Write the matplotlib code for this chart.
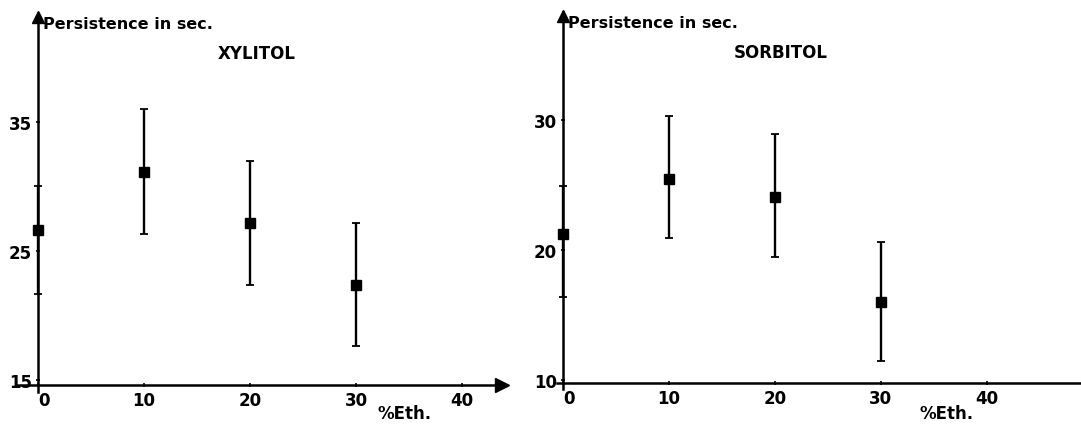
import matplotlib
matplotlib.use('Agg')
from matplotlib import pyplot as plt

# % ethanol and persistence (sec): means with lower / upper ends of the bars
eth = [0, 10, 20, 30]

xyl_mean = [26.6, 31.1, 27.2, 22.4]
xyl_low = [21.7, 26.3, 22.4, 17.6]
xyl_high = [30.0, 36.0, 32.0, 27.2]

sor_mean = [21.2, 25.5, 24.1, 16.0]
sor_low = [16.4, 20.9, 19.5, 11.5]
sor_high = [24.9, 30.3, 28.9, 20.6]

x_ticks = [0, 10, 20, 30, 40]
xyl_yticks = [15, 25, 35]
sor_yticks = [10, 20, 30]

plt.rcParams['font.family'] = ['DejaVu Sans']
plt.rcParams['font.weight'] = 'bold'

fig = plt.figure(figsize=(10.81, 4.27), dpi=100)
W, H = 1081.0, 427.0


def panel(rect, mean, low, high, yticks, xlim, ylim, xaxis_y, title, xlab, arrow_x):
    ax = fig.add_axes(rect)
    err = [[m - l for m, l in zip(mean, low)], [h - m for m, h in zip(mean, high)]]
    ax.errorbar(eth, mean, yerr=err, fmt='s', color='black', ms=7.5,
                elinewidth=1.7, capsize=3, capthick=1.3, clip_on=False, zorder=3)
    ax.set_xlim(xlim)
    ax.set_ylim(ylim)
    for s in ['top', 'right']:
        ax.spines[s].set_visible(False)
    ax.spines['left'].set_position(('data', 0))
    ax.spines['bottom'].set_position(('data', xaxis_y))
    ax.spines['left'].set_linewidth(1.8)
    ax.spines['bottom'].set_linewidth(1.8)
    # arrow heads on the axes
    ax.plot(0, 0.99, '^k', ms=8.5, transform=ax.get_xaxis_transform(), clip_on=False)
    if arrow_x:
        ax.plot(0.99, xaxis_y, '>k', ms=10, transform=ax.get_yaxis_transform(),
                clip_on=False)
    ax.set_xticks(x_ticks)
    ax.set_yticks(yticks)
    ax.tick_params(axis='both', direction='inout', length=3, width=1.2,
                   labelsize=12, pad=3)
    for lbl in ax.get_xticklabels() + ax.get_yticklabels():
        lbl.set_fontweight('bold')
    ax.get_xticklabels()[0].set_horizontalalignment('left')
    ax.text(0.5, 0.973, 'Persistence in sec.', transform=ax.get_xaxis_transform(),
            ha='left', va='center', fontsize=11.5, fontweight='bold')
    ax.text(20.6, 0.895, title, transform=ax.get_xaxis_transform(), ha='center',
            va='center', fontsize=12, fontweight='bold')
    ax.text(xlab[0], xlab[1], '%Eth.', transform=ax.get_xaxis_transform(),
            ha='left', va='center', fontsize=12, fontweight='bold')
    return ax


# left panel
panel([16.8 / W, 33.7 / H, (506.5 - 16.8) / W, 378.7 / H],
      xyl_mean, xyl_low, xyl_high, xyl_yticks, (-2, 44.2), (14.05, 43.4), 14.6,
      'XYLITOL', (32, -0.055), True)
# right panel, axis runs to the edge
panel([556.6 / W, 37.5 / H, (1081 - 556.6) / W, 376.4 / H],
      sor_mean, sor_low, sor_high, sor_yticks, (-0.6, 48.9), (9.35, 38.3), 9.8,
      'SORBITOL', (33.7, -0.065), False)

plt.savefig('out.png', dpi=100)
